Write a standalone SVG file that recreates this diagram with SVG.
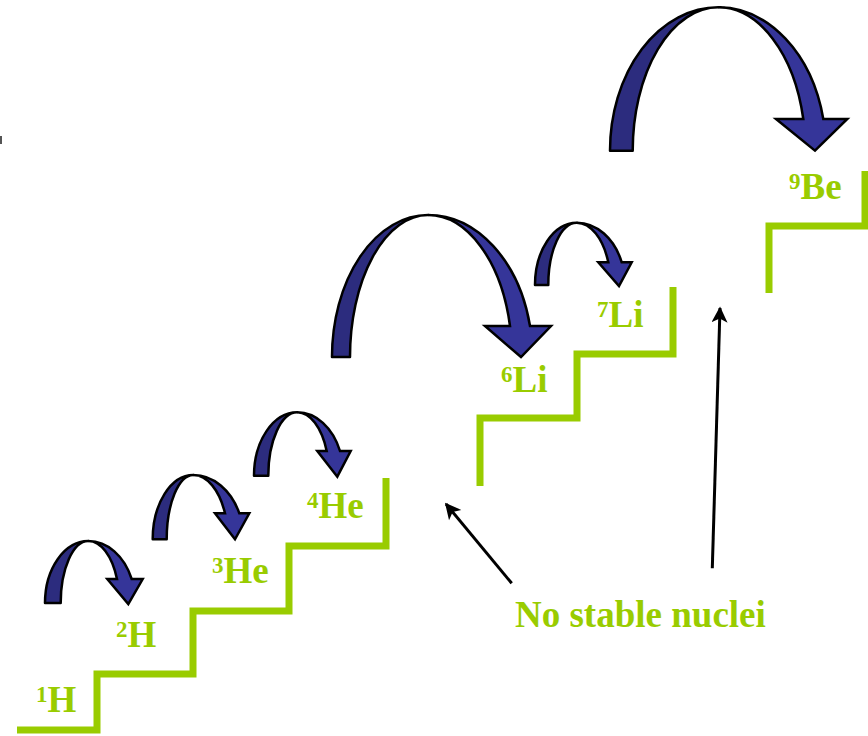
<svg xmlns="http://www.w3.org/2000/svg" width="868" height="736" viewBox="0 0 868 736">
<style>
.stair{fill:none;stroke:#99CC00;stroke-width:7;stroke-linejoin:miter;stroke-linecap:butt}
.lbl{font-family:"Liberation Serif","Times New Roman",serif;font-weight:bold;fill:#99CC00;font-size:37px}
.sup{font-size:23px}
.dk{fill:#2C2C7E;stroke:#000;stroke-width:2.5;stroke-linejoin:round}
.lt{fill:#353599;stroke:#000;stroke-width:2.5;stroke-linejoin:miter}
.ptr{fill:none;stroke:#000;stroke-width:3}
</style>
<defs>
<marker id="ah" viewBox="0 0 10 10" refX="9" refY="5" markerWidth="19" markerHeight="16" markerUnits="userSpaceOnUse" orient="auto">
<path d="M0,0 L10,5 L0,10 L2.5,5 Z" fill="#000"/>
</marker>
</defs>
<rect width="868" height="736" fill="#fff"/>
<rect x="0" y="136" width="2" height="8" fill="#555"/>

<g id="stairs">
<polyline class="stair" points="17,730 97,730 97,674 193,674 193,611 289,611 289,546 386,546 386,478"/>
<polyline class="stair" points="480,486 480,418 577,418 577,354 673,354 673,287"/>
<polyline class="stair" points="769,293 769,226 865,226 865,171"/>
</g>

<g id="arrow-1H-2H">
<path class="dk" d="M45,603 A43.3,62 0 0 1 88.3,541 A27.6,62 0 0 0 60.7,603 Z"/>
<path class="lt" d="M88.3,541 A47,62 0 0 1 131.7,579 L142.7,579 L128.3,604 L107.3,579 L117,579 A31,62 0 0 0 88.3,541 Z"/>
</g>
<g id="arrow-2H-3He">
<path class="dk" d="M152.7,539.3 A40.6,64.3 0 0 1 193.3,475 A26.6,64.3 0 0 0 166.7,539.3 Z"/>
<path class="lt" d="M193.3,475 A50.3,64.3 0 0 1 239.3,513.3 L249.3,513.3 L235,539.3 L215,513.3 L225,513.3 A34.6,64.3 0 0 0 193.3,475 Z"/>
</g>
<g id="arrow-3He-4He">
<path class="dk" d="M254,475.7 A43.3,63.4 0 0 1 297.3,412.3 A29,63.4 0 0 0 268.3,475.7 Z"/>
<path class="lt" d="M297.3,412.3 A46.4,63.4 0 0 1 340,451 L350.7,451 L337.3,476.7 L317.3,451 L326.7,451 A31.9,63.4 0 0 0 297.3,412.3 Z"/>
</g>
<g id="arrow-4He-6Li">
<path class="dk" d="M332,357 A96,142 0 0 1 428,215 A78,142 0 0 0 350,357 Z"/>
<path class="lt" d="M428,215 A104.5,142 0 0 1 530,326 L551,326 L521,357 L485,326 L510,326 A84,142 0 0 0 428,215 Z"/>
</g>
<g id="arrow-6Li-7Li">
<path class="dk" d="M535,285 A41.7,62.3 0 0 1 576.7,222.7 A28.4,62.3 0 0 0 548.3,285 Z"/>
<path class="lt" d="M576.7,222.7 A48.3,62.3 0 0 1 621.7,262.3 L631.7,262.3 L619,286 L598.3,262.3 L608.3,262.3 A34,62.3 0 0 0 576.7,222.7 Z"/>
</g>
<g id="arrow-7Li-9Be">
<path class="dk" d="M610,150.7 A108.3,143.4 0 0 1 718.3,7.3 A85.6,143.4 0 0 0 632.7,150.7 Z"/>
<path class="lt" d="M718.3,7.3 A107.7,143.4 0 0 1 823.3,119 L847.3,119 L815,150.7 L776,119 L803.3,119 A87.2,143.4 0 0 0 718.3,7.3 Z"/>
</g>

<g id="label-1H"><text class="lbl" x="36" y="712"><tspan class="sup" dy="-10">1</tspan><tspan dy="10">H</tspan></text></g>
<g id="label-2H"><text class="lbl" x="116" y="647"><tspan class="sup" dy="-10">2</tspan><tspan dy="10">H</tspan></text></g>
<g id="label-3He"><text class="lbl" x="212" y="583"><tspan class="sup" dy="-10">3</tspan><tspan dy="10">He</tspan></text></g>
<g id="label-4He"><text class="lbl" x="307" y="518"><tspan class="sup" dy="-10">4</tspan><tspan dy="10">He</tspan></text></g>
<g id="label-6Li"><text class="lbl" x="501" y="392"><tspan class="sup" dy="-10">6</tspan><tspan dy="10">Li</tspan></text></g>
<g id="label-7Li"><text class="lbl" x="597" y="327"><tspan class="sup" dy="-10">7</tspan><tspan dy="10">Li</tspan></text></g>
<g id="label-9Be"><text class="lbl" x="789" y="199"><tspan class="sup" dy="-10">9</tspan><tspan dy="10">Be</tspan></text></g>

<g id="label-nostable"><text class="lbl" x="515" y="627">No stable nuclei</text></g>

<g id="connectors">
<line class="ptr" x1="511.7" y1="583.3" x2="446" y2="504" marker-end="url(#ah)"/>
<line class="ptr" x1="712.3" y1="568.3" x2="720" y2="308" marker-end="url(#ah)"/>
</g>
</svg>
